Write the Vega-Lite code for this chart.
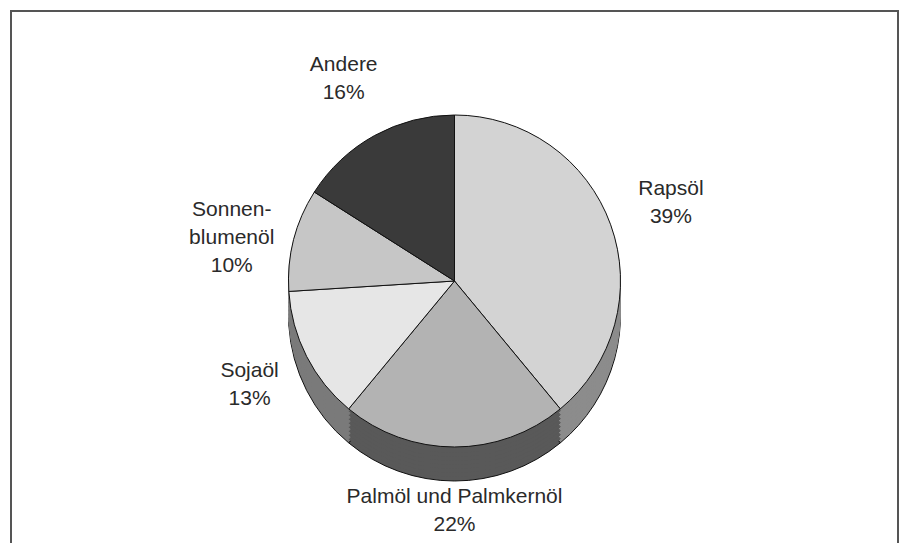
{
  "$schema": "https://vega.github.io/schema/vega-lite/v6.json",
  "width": 887,
  "height": 540,
  "autosize": {"type": "none"},
  "padding": {"left": 11, "top": 11, "right": 1, "bottom": 0},
  "background": "white",
  "view": {"stroke": "#555555", "strokeWidth": 2, "fill": "white"},
  "config": {
    "view": {"stroke": "#555555", "strokeWidth": 2},
    "text": {"font": "Liberation Sans"}
  },
  "data": {
    "values": [
      {"oil": "Rapsöl", "share": 39, "ord": 1, "label": "Rapsöl\n39%"},
      {"oil": "Palmöl und Palmkernöl", "share": 22, "ord": 2, "label": "Palmöl und Palmkernöl\n22%"},
      {"oil": "Sojaöl", "share": 13, "ord": 3, "label": "Sojaöl\n13%"},
      {"oil": "Sonnenblumenöl", "share": 10, "ord": 4, "label": "Sonnen-\nblumenöl\n10%"},
      {"oil": "Andere", "share": 16, "ord": 5, "label": "Andere\n16%"}
    ]
  },
  "encoding": {
    "theta": {"field": "share", "type": "quantitative", "stack": true},
    "order": {"field": "ord", "type": "quantitative"}
  },
  "layer": [
    {
      "mark": {"type": "arc", "outerRadius": 166, "yOffset": 34, "stroke": "#111111", "strokeWidth": 1},
      "encoding": {
        "fill": {"field": "oil", "type": "nominal", "legend": null,
          "scale": {"domain": ["Rapsöl", "Palmöl und Palmkernöl", "Sojaöl", "Sonnenblumenöl", "Andere"],
                    "range": ["#8c8c8c", "#595959", "#7a7a7a", "#9a9a9a", "#333333"]}}
      }
    },
    {
      "mark": {"type": "arc", "outerRadius": 166, "yOffset": 30, "strokeWidth": 1},
      "encoding": {
        "fill": {"field": "oil", "type": "nominal", "legend": null,
          "scale": {"domain": ["Rapsöl", "Palmöl und Palmkernöl", "Sojaöl", "Sonnenblumenöl", "Andere"],
                    "range": ["#8c8c8c", "#595959", "#7a7a7a", "#9a9a9a", "#333333"]}},
        "stroke": {"field": "oil", "type": "nominal", "legend": null,
          "scale": {"domain": ["Rapsöl", "Palmöl und Palmkernöl", "Sojaöl", "Sonnenblumenöl", "Andere"],
                    "range": ["#8c8c8c", "#595959", "#7a7a7a", "#9a9a9a", "#333333"]}}
      }
    },
    {
      "mark": {"type": "arc", "outerRadius": 166, "yOffset": 26, "strokeWidth": 1},
      "encoding": {
        "fill": {"field": "oil", "type": "nominal", "legend": null},
        "stroke": {"field": "oil", "type": "nominal", "legend": null}
      }
    },
    {
      "mark": {"type": "arc", "outerRadius": 166, "yOffset": 22, "strokeWidth": 1},
      "encoding": {
        "fill": {"field": "oil", "type": "nominal", "legend": null},
        "stroke": {"field": "oil", "type": "nominal", "legend": null}
      }
    },
    {
      "mark": {"type": "arc", "outerRadius": 166, "yOffset": 18, "strokeWidth": 1},
      "encoding": {
        "fill": {"field": "oil", "type": "nominal", "legend": null},
        "stroke": {"field": "oil", "type": "nominal", "legend": null}
      }
    },
    {
      "mark": {"type": "arc", "outerRadius": 166, "yOffset": 14, "strokeWidth": 1},
      "encoding": {
        "fill": {"field": "oil", "type": "nominal", "legend": null},
        "stroke": {"field": "oil", "type": "nominal", "legend": null}
      }
    },
    {
      "mark": {"type": "arc", "outerRadius": 166, "yOffset": 10, "strokeWidth": 1},
      "encoding": {
        "fill": {"field": "oil", "type": "nominal", "legend": null},
        "stroke": {"field": "oil", "type": "nominal", "legend": null}
      }
    },
    {
      "mark": {"type": "arc", "outerRadius": 166, "yOffset": 6, "strokeWidth": 1},
      "encoding": {
        "fill": {"field": "oil", "type": "nominal", "legend": null},
        "stroke": {"field": "oil", "type": "nominal", "legend": null}
      }
    },
    {
      "mark": {"type": "arc", "outerRadius": 166, "yOffset": 2, "strokeWidth": 1},
      "encoding": {
        "fill": {"field": "oil", "type": "nominal", "legend": null},
        "stroke": {"field": "oil", "type": "nominal", "legend": null}
      }
    },
    {
      "mark": {"type": "arc", "outerRadius": 166, "stroke": "#111111", "strokeWidth": 1},
      "encoding": {
        "color": {"field": "oil", "type": "nominal", "legend": null,
          "scale": {"domain": ["Rapsöl", "Palmöl und Palmkernöl", "Sojaöl", "Sonnenblumenöl", "Andere"],
                    "range": ["#d3d3d3", "#b3b3b3", "#e6e6e6", "#c6c6c6", "#3a3a3a"]}}
      }
    },
    {
      "mark": {"type": "text", "radius": 230, "dy": -14, "fontSize": 21, "lineBreak": "\n", "lineHeight": 28, "color": "#2a2a2a", "baseline": "middle", "align": "center"},
      "encoding": {
        "text": {"field": "label", "type": "nominal"}
      }
    }
  ]
}
